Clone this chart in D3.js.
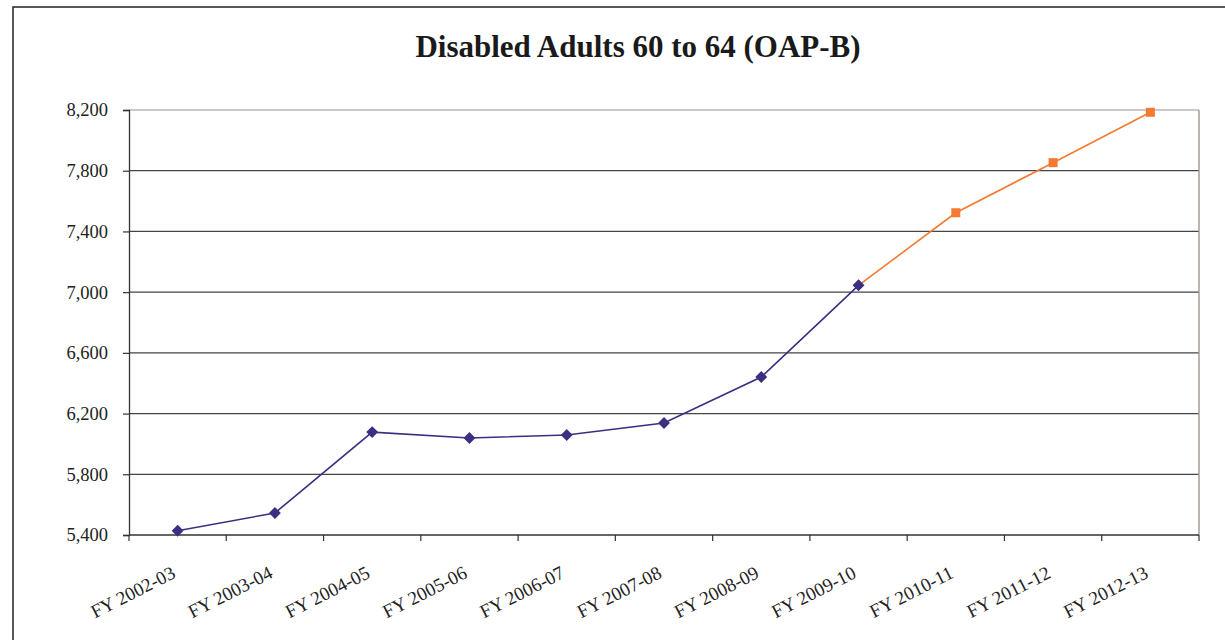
<!DOCTYPE html>
<html>
<head>
<meta charset="utf-8">
<script src="https://cdn.jsdelivr.net/npm/d3@7"></script>
<style>
  html, body { margin: 0; padding: 0; background: #fff; }
  svg { display: block; }
</style>
</head>
<body>
<script>
// Fiscal years on the category axis
const categories = ["FY 2002-03", "FY 2003-04", "FY 2004-05", "FY 2005-06", "FY 2006-07",
  "FY 2007-08", "FY 2008-09", "FY 2009-10", "FY 2010-11", "FY 2011-12", "FY 2012-13"];
// Actual caseload
const actualValues = [5428, 5545, 6078, 6039, 6059, 6138, 6441, 7045, null, null, null];
// Projected caseload (continues from the last actual year)
const projectedValues = [null, null, null, null, null, null, null, 7045, 7523, 7853, 8185];
const projectedMarked = [false, false, false, false, false, false, false, false, true, true, true];
const yTicks = [5400, 5800, 6200, 6600, 7000, 7400, 7800, 8200];
const titleText = "Disabled Adults 60 to 64 (OAP-B)";

const W = 1225, H = 640;
const plot = { left: 129, top: 110, right: 1199, bottom: 535 };
const font = "'Liberation Serif', 'Times New Roman', serif";

const svg = d3.select("body").append("svg").attr("width", W).attr("height", H);

// Outer chart frame
svg.append("rect").attr("x", 13).attr("y", 7).attr("width", 1240).attr("height", 660)
  .attr("fill", "#fff").attr("stroke", "#222").attr("stroke-width", 1.5);

svg.append("text").attr("x", 638).attr("y", 57).attr("text-anchor", "middle")
  .attr("font-family", font)
  .attr("font-weight", "bold").attr("font-size", 31).attr("fill", "#1a1a1a")
  .text(titleText);

const x = d3.scaleBand().domain(categories).range([plot.left, plot.right]).padding(0);
const y = d3.scaleLinear().domain([5400, 8200]).range([plot.bottom, plot.top]);

// Horizontal gridlines
svg.append("g").selectAll("line").data(yTicks.slice(1)).join("line")
  .attr("x1", plot.left).attr("x2", plot.right)
  .attr("y1", d => y(d)).attr("y2", d => y(d))
  .attr("stroke", (d, i, a) => i === a.length - 1 ? "#9c918e" : "#444")
  .attr("stroke-width", 1.2);

// Plot area right edge
svg.append("line").attr("x1", plot.right).attr("x2", plot.right)
  .attr("y1", plot.top).attr("y2", plot.bottom)
  .attr("stroke", "#a59c99").attr("stroke-width", 1.5);

// Y axis
const yAxis = svg.append("g").attr("transform", `translate(${plot.left},0)`)
  .call(d3.axisLeft(y).tickValues(yTicks).tickFormat(d3.format(",")).tickSize(6).tickPadding(15));
yAxis.select(".domain").attr("stroke", "#333").attr("stroke-width", 1.3);
yAxis.selectAll(".tick line").attr("stroke", "#333").attr("stroke-width", 1.2);
yAxis.selectAll("text").attr("font-family", font).attr("font-size", 18.5).attr("fill", "#222");

// X axis with ticks on category boundaries
const boundaries = d3.range(categories.length + 1).map(i => plot.left + i * x.bandwidth());
const xg = svg.append("g");
xg.append("line").attr("x1", plot.left).attr("x2", plot.right)
  .attr("y1", plot.bottom).attr("y2", plot.bottom).attr("stroke", "#333").attr("stroke-width", 1.3);
xg.selectAll("line.tk").data(boundaries).join("line").attr("class", "tk")
  .attr("x1", d => d).attr("x2", d => d)
  .attr("y1", plot.bottom).attr("y2", plot.bottom + 6)
  .attr("stroke", "#333").attr("stroke-width", 1.2);
xg.selectAll("text").data(categories).join("text")
  .attr("transform", d => `translate(${x(d) + x.bandwidth() / 2 - 1},${plot.bottom + 42}) rotate(-27)`)
  .attr("text-anchor", "end")
  .attr("font-family", font).attr("font-size", 19).attr("fill", "#222")
  .text(d => d);

const cx = d => x(d) + x.bandwidth() / 2;

// Projected series
const projPts = categories.map((c, i) => ({ c, v: projectedValues[i], m: projectedMarked[i] }))
  .filter(d => d.v != null);
svg.append("path").datum(projPts)
  .attr("d", d3.line().x(d => cx(d.c)).y(d => y(d.v)))
  .attr("fill", "none").attr("stroke", "#f47a32").attr("stroke-width", 1.6);
svg.append("g").selectAll("rect").data(projPts.filter(d => d.m)).join("rect")
  .attr("x", d => cx(d.c) - 4.5).attr("y", d => y(d.v) - 4.5)
  .attr("width", 9).attr("height", 9).attr("fill", "#f47a32");

// Actual series
const actPts = categories.map((c, i) => ({ c, v: actualValues[i] })).filter(d => d.v != null);
svg.append("path").datum(actPts)
  .attr("d", d3.line().x(d => cx(d.c)).y(d => y(d.v)))
  .attr("fill", "none").attr("stroke", "#3b2f82").attr("stroke-width", 1.6);
svg.append("g").selectAll("path").data(actPts).join("path")
  .attr("transform", d => `translate(${cx(d.c)},${y(d.v)})`)
  .attr("d", d3.symbol(d3.symbolDiamond2, 90))
  .attr("fill", "#3b2f82");
</script>
</body>
</html>
